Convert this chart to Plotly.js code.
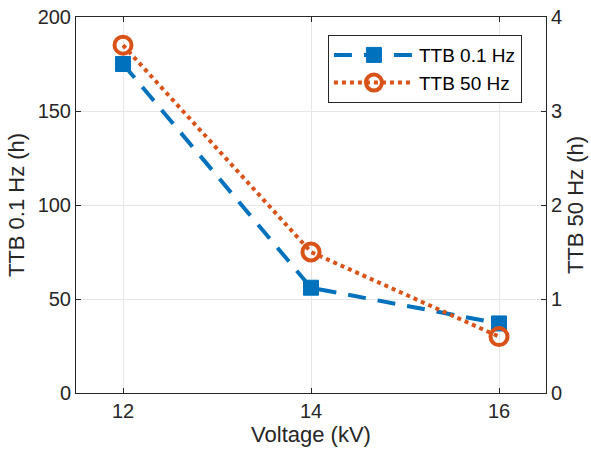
<!DOCTYPE html>
<html><head><meta charset="utf-8">
<script src="https://cdn.plot.ly/plotly-3.0.1.min.js"></script>
<style>html,body{margin:0;padding:0;background:#fff}#c{width:591px;height:453px}</style>
</head><body><div id="c"></div>
<script>
const voltage = [12, 14, 16];
const ttb01 = [175, 56, 37];
const ttb50 = [3.7, 1.5, 0.6];
const xTicks = [12, 14, 16];
const yLeftTicks = [0, 50, 100, 150, 200];
const yRightTicks = [0, 1, 2, 3, 4];

const font = 'Liberation Sans, Arial, sans-serif';
const traces = [
  {x: voltage, y: ttb01, name: 'TTB 0.1 Hz', type: 'scatter', mode: 'lines+markers',
   line: {color: '#0072BD', width: 4, dash: '18px,12px'},
   marker: {symbol: 'square', size: 15, color: '#0072BD', line: {color: '#0072BD', width: 1}}},
  {x: voltage, y: ttb50, name: 'TTB 50 Hz', type: 'scatter', mode: 'lines+markers', yaxis: 'y2',
   line: {color: '#D95319', width: 4, dash: 'dot'},
   marker: {symbol: 'circle-open', size: 17, color: '#D95319', line: {color: '#D95319', width: 4}}}
];
const axisCommon = {showline: true, linecolor: '#262626', linewidth: 1, ticks: 'inside', ticklen: 5,
  tickcolor: '#262626', zeroline: false, tickfont: {family: font, size: 20, color: '#262626'},
  gridcolor: '#e6e6e6', gridwidth: 1};
const layout = {
  width: 591, height: 453, paper_bgcolor: '#fff', plot_bgcolor: '#fff',
  margin: {l: 76, r: 45, t: 17, b: 60},
  font: {family: font, color: '#262626'},
  xaxis: Object.assign({}, axisCommon, {range: [11.5, 16.5], tickvals: xTicks, mirror: 'ticks', showgrid: true,
    title: {text: 'Voltage (kV)', font: {family: font, size: 22, color: '#262626'}, standoff: 4}}),
  yaxis: Object.assign({}, axisCommon, {range: [0, 200], tickvals: yLeftTicks, showgrid: true,
    title: {text: 'TTB 0.1 Hz (h)', font: {family: font, size: 22, color: '#262626'}, standoff: 6}}),
  yaxis2: Object.assign({}, axisCommon, {range: [0, 4], tickvals: yRightTicks, overlaying: 'y', side: 'right', showgrid: false,
    title: {text: 'TTB 50 Hz (h)', font: {family: font, size: 22, color: '#262626'}, standoff: 6}}),
  legend: {x: 0.536, y: 0.952, xanchor: 'left', yanchor: 'top', bgcolor: '#fff',
    bordercolor: '#262626', borderwidth: 1, font: {family: font, size: 19, color: '#000'},
    itemwidth: 80, tracegroupgap: 0},
  showlegend: true
};
Plotly.newPlot('c', traces, layout, {displayModeBar: false, staticPlot: true});
</script></body></html>
